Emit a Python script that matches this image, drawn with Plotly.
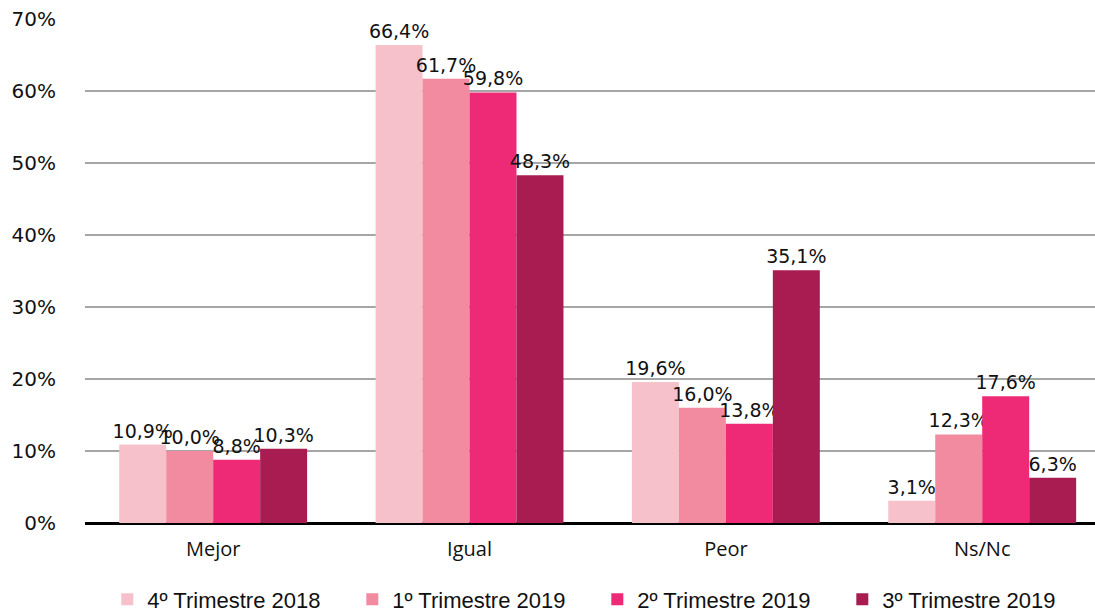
import plotly.graph_objects as go

categories = ["Mejor", "Igual", "Peor", "Ns/Nc"]
series_names = ["4º Trimestre 2018", "1º Trimestre 2019", "2º Trimestre 2019", "3º Trimestre 2019"]
t4_2018 = [10.9, 66.4, 19.6, 3.1]
t1_2019 = [10.0, 61.7, 16.0, 12.3]
t2_2019 = [8.8, 59.8, 13.8, 17.6]
t3_2019 = [10.3, 48.3, 35.1, 6.3]
colors = ["#F7C1CB", "#F38BA0", "#EE2A77", "#A81C52"]
y_ticks = [0, 10, 20, 30, 40, 50, 60, 70]

fig = go.Figure()
for name, vals, col in zip(series_names, [t4_2018, t1_2019, t2_2019, t3_2019], colors):
    fig.add_trace(go.Bar(
        x=categories, y=vals, name=name, marker_color=col, marker_line_width=0,
        text=[f"{v:.1f}%".replace(".", ",") for v in vals],
        textposition="outside", cliponaxis=False, constraintext="none",
        textfont=dict(family="DejaVu Sans", size=19, color="#111"),
    ))

fig.update_layout(
    width=1095, height=613,
    margin=dict(l=85, r=0, t=19, b=90, autoexpand=False),
    paper_bgcolor="white", plot_bgcolor="white",
    barmode="group", bargap=0.267, bargroupgap=0,
    font=dict(family="DejaVu Sans", size=18, color="#111"),
    xaxis=dict(type="category", range=[-0.5, 3.44], showgrid=False, automargin=False,
               showline=False, ticks="", ticklabelstandoff=12,
               tickfont=dict(family="Open Sans", size=20)),
    yaxis=dict(range=[0, 70], tickvals=y_ticks, ticktext=[f"{v}%" for v in y_ticks],
               showgrid=True, gridcolor="#A6A6A6", gridwidth=1.5, automargin=False,
               zeroline=True, zerolinecolor="black", zerolinewidth=3,
               ticks="", ticklabelstandoff=28, tickfont=dict(size=20)),
    legend=dict(orientation="h", xref="container", yref="container",
                x=0.098, xanchor="left", y=0.022, yanchor="middle",
                font=dict(family="Liberation Sans", size=22),
                itemwidth=30, entrywidth=200, entrywidthmode="pixels", traceorder="normal"),
)

fig.write_html("out.html", config={"displayModeBar": False},
               post_script="document.body.style.margin='0';")
